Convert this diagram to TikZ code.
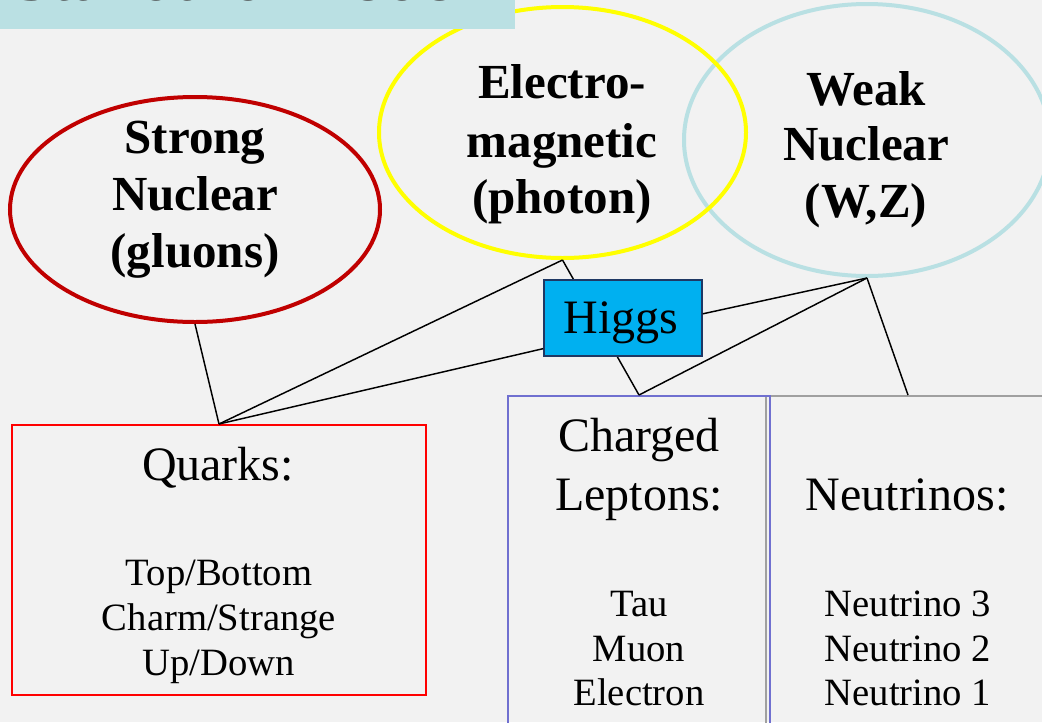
\documentclass[tikz,border=0pt]{standalone}
\usepackage{fontspec}
\setmainfont{Liberation Serif}
\usetikzlibrary{shapes.geometric}
\definecolor{bg}{HTML}{F2F2F2}
\definecolor{titlebg}{HTML}{BAE0E3}
\definecolor{strongc}{HTML}{C00000}
\definecolor{emc}{HTML}{FFFF00}
\definecolor{weakc}{HTML}{B9E0E3}
\definecolor{higgsc}{HTML}{00B0F0}
\definecolor{higgsb}{HTML}{1F3864}
\definecolor{leptb}{HTML}{7070D0}
\definecolor{neutb}{HTML}{A0A0A0}
\definecolor{titletext}{HTML}{404040}
\begin{document}
\begin{tikzpicture}[x=0.75pt,y=-0.75pt,
  force/.style={ellipse, line width=3pt, inner sep=0pt, fill=none},
  groupbox/.style={rectangle, line width=1.5pt, inner sep=0pt},
  conn/.style={black, line width=1.1pt},
  ellabel/.style={anchor=base, inner sep=0pt, font=\fontsize{36.75}{44}\selectfont\bfseries},
  headlabel/.style={anchor=base, inner sep=0pt, font=\fontsize{36}{43}\selectfont},
  itemlabel/.style={anchor=base, inner sep=0pt, font=\fontsize{29}{35}\selectfont}]
\useasboundingbox (0,0) rectangle (1042,722);
\clip (0,0) rectangle (1042,722);
\fill[bg] (0,0) rectangle (1042,722);

% force ellipses
\node[force, draw=weakc, minimum width=274.5pt, minimum height=204pt] (weak) at (867,140) {};
\node[force, draw=emc, minimum width=275.25pt, minimum height=188.25pt] (em) at (562.5,132.5) {};
\node[force, draw=strongc, minimum width=277.5pt, minimum height=168.75pt] (strong) at (195,209.5) {};

% title bar
\node[rectangle, fill=titlebg, inner sep=0pt, minimum width=386.25pt, minimum height=21.75pt] (titlebar) at (257.5,14.5) {};
\node[anchor=base west, inner sep=0pt, text=titletext, font=\fontsize{54}{60}\selectfont] (title) at (12,0.7) {Standard Model};

% particle group boxes
\node[groupbox, draw=neutb, minimum width=213pt, minimum height=258pt] (neutrinos) at (908,568) {};
\node[groupbox, draw=leptb, minimum width=196.5pt, minimum height=258pt] (charged) at (639,568) {};
\node[groupbox, draw=red, minimum width=310.5pt, minimum height=202.5pt] (quarks) at (219,560) {};

% connectors
\draw[conn] (strong.south) -- (quarks.north);
\draw[conn] (quarks.north) -- (em.south);
\draw[conn] (em.south) -- (charged.north);
\draw[conn] (weak.south) -- (charged.north);
\draw[conn] (weak.south) -- (neutrinos.north);

% Higgs
\node[rectangle, fill=higgsc, draw=higgsb, line width=1.2pt, inner sep=0pt, minimum width=118.5pt, minimum height=57pt] (higgs) at (623,318) {};
\node[headlabel] (higgstext) at (621,333) {Higgs};
\draw[conn] (quarks.north) -- (higgs.201.8);
\draw[conn] (weak.south) -- (higgs.3.5);

% ellipse labels
\node[ellabel] (s1) at (195,153) {Strong};
\node[ellabel] (s2) at (195,210) {Nuclear};
\node[ellabel] (s3) at (195,267) {(gluons)};
\node[ellabel] (e1) at (562,98) {Electro-};
\node[ellabel] (e2) at (562,157) {magnetic};
\node[ellabel] (e3) at (562,213) {(photon)};
\node[ellabel] (w1) at (866,105) {Weak};
\node[ellabel] (w2) at (866,160) {Nuclear};
\node[ellabel] (w3) at (866,217) {(W,Z)};

% box labels
\node[headlabel] (q0) at (218,480) {Quarks:};
\node[itemlabel] (q1) at (219,585) {Top/Bottom};
\node[itemlabel] (q2) at (219,630) {Charm/Strange};
\node[itemlabel] (q3) at (219,675) {Up/Down};

\node[headlabel] (c0) at (639,451) {Charged};
\node[headlabel] (c1) at (639,510) {Leptons:};
\node[itemlabel] (c2) at (639,616) {Tau};
\node[itemlabel] (c3) at (639,661) {Muon};
\node[itemlabel] (c4) at (639,705) {Electron};

\node[headlabel] (n0) at (907,510) {Neutrinos:};
\node[itemlabel] (n1) at (908,616) {Neutrino 3};
\node[itemlabel] (n2) at (908,661) {Neutrino 2};
\node[itemlabel] (n3) at (908,705) {Neutrino 1};
\end{tikzpicture}
\end{document}
